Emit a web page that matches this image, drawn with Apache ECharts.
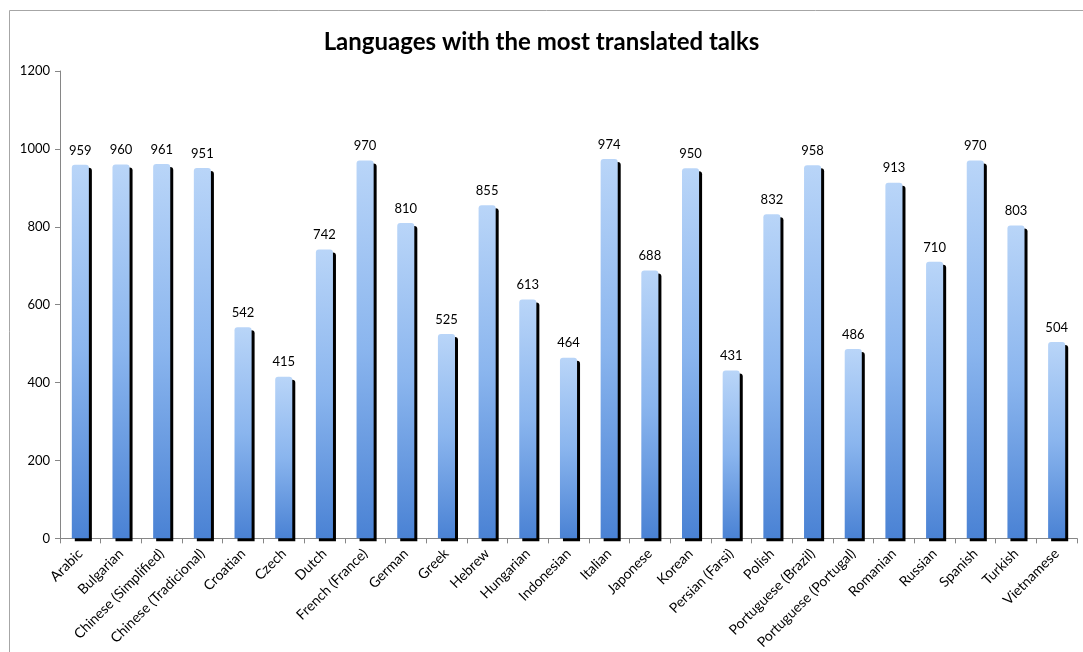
<!DOCTYPE html>
<html>
<head>
<meta charset="utf-8">
<script src="https://cdn.jsdelivr.net/npm/echarts@6/dist/echarts.min.js"></script>
<style>
  html, body { margin: 0; padding: 0; background: #fff; }
  #chart { width: 1083px; height: 652px; }
</style>
</head>
<body>
<div id="chart"></div>
<script>
// Languages and the number of talks translated into each
const languages = [
  'Arabic', 'Bulgarian', 'Chinese (Simplified)', 'Chinese (Tradicional)', 'Croatian',
  'Czech', 'Dutch', 'French (France)', 'German', 'Greek', 'Hebrew', 'Hungarian',
  'Indonesian', 'Italian', 'Japonese', 'Korean', 'Persian (Farsi)', 'Polish',
  'Portuguese (Brazil)', 'Portuguese (Portugal)', 'Romanian', 'Russian', 'Spanish',
  'Turkish', 'Vietnamese'
];
const translatedTalks = [
  959, 960, 961, 951, 542, 415, 742, 970, 810, 525, 855, 613, 464,
  974, 688, 950, 431, 832, 958, 486, 913, 710, 970, 803, 504
];
const yTicks = { min: 0, max: 1200, step: 200 };

const font = 'Lato, "Open Sans", sans-serif';
const chart = echarts.init(document.getElementById('chart'));

chart.setOption({
  animation: false,
  backgroundColor: '#ffffff',
  graphic: [{
    type: 'rect',
    shape: { x: 9.5, y: 10.5, width: 1200, height: 800 },
    style: { fill: 'none', stroke: '#a6a6a6', lineWidth: 1 },
    silent: true
  }],
  title: {
    text: 'Languages with the most translated talks',
    left: 'center',
    top: 25,
    textStyle: { fontFamily: font, fontSize: 24, fontWeight: 'bold', color: '#000' }
  },
  grid: { left: 60, right: 6, top: 71, bottom: 113, containLabel: false },
  xAxis: {
    type: 'category',
    data: languages,
    axisLine: { lineStyle: { color: '#868686' } },
    axisTick: { show: true, length: 5, alignWithLabel: false, lineStyle: { color: '#868686' } },
    axisLabel: {
      interval: 0, rotate: 45, margin: 13,
      fontFamily: font, fontSize: 14, color: '#000'
    }
  },
  yAxis: {
    type: 'value',
    min: yTicks.min, max: yTicks.max, interval: yTicks.step,
    axisLine: { show: true, lineStyle: { color: '#868686' } },
    axisTick: { show: true, length: 5, lineStyle: { color: '#868686' } },
    splitLine: { show: false },
    axisLabel: {
      fontFamily: font, fontSize: 13, color: '#000', margin: 10,
      formatter: v => String(v)
    }
  },
  series: [{
    type: 'bar',
    data: translatedTalks,
    barWidth: '42%',
    itemStyle: {
      color: new echarts.graphic.LinearGradient(0, 0, 0, 1, [
        { offset: 0, color: '#b9d5f8' },
        { offset: 0.5, color: '#8ab5ee' },
        { offset: 1, color: '#4a82d4' }
      ]),
      borderRadius: [3, 3, 0, 0],
      shadowColor: '#000',
      shadowBlur: 0,
      shadowOffsetX: 3,
      shadowOffsetY: 3
    },
    label: {
      show: true,
      position: 'top',
      distance: 8,
      fontFamily: font,
      fontSize: 13,
      color: '#000'
    }
  }]
});
</script>
</body>
</html>
